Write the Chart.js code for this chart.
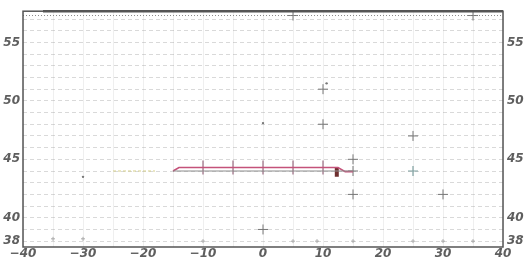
<!DOCTYPE html>
<html>
<head>
<meta charset="utf-8">
<script src="https://cdn.jsdelivr.net/npm/chart.js@4.4.1/dist/chart.umd.min.js"></script>
<style>
  html, body { margin: 0; padding: 0; background: #fff; }
  #wrap { width: 529px; height: 261px; position: relative; }
</style>
</head>
<body>
<div id="wrap"><canvas id="plot"></canvas></div>
<script>
// axis ticks
const xTickLabels = [-40, -30, -20, -10, 0, 10, 20, 30, 40];
const yTickLabels = [38, 40, 45, 50, 55];
const yGridLines = [38, 39, 40, 41, 42, 43, 44, 45, 46, 47, 48, 49, 50, 51, 52, 53, 54, 55, 56, 57];

// red track along 44
const trackX = [-15, -14, 12.5, 13.7, 15];
const trackY = [44.0, 44.3, 44.3, 43.95, 43.95];
// grey base line under it
const baseX = [-15, 15];
const baseY = [44.0, 44.0];
// station marks on the track
const stationX = [-10, -5, 0, 5, 10];
const stationY = [44.3, 44.3, 44.3, 44.3, 44.3];
// dark stub at the east end
const stubX = [12.3, 12.3];
const stubY = [44.3, 43.5];

// scattered crosses
const crossX = [10, 10, 25, 15, 30, 0, 15, 5, 35, 15];
const crossY = [51, 48, 47, 42, 42, 39, 45, 57.3, 57.3, 44];
const greenX = [25];
const greenY = [44];
// small dots
const dotX = [10.6, 0, -30];
const dotY = [51.5, 48.1, 43.5];
// faint marks on the bottom row
const lowX = [-35, -30, -10, 5, 9, 15, 25, 30, 35];
const lowY = [38.2, 38.2, 38, 38, 38, 38, 38, 38, 38];
// yellow dashed bit west of the track
const westX = [-25, -18];
const westY = [44, 44];
// dotted line along the top
const topX = [-40, 40];
const topY = [57.3, 57.3];

const pts = (xs, ys) => xs.map((x, i) => ({ x: x, y: ys[i] }));

const tickFont = { family: "'DejaVu Sans'", size: 12, style: 'oblique', weight: 'bold' };
const tickColor = '#5e5e5e';
const minus = v => (v < 0 ? '\u2212' + Math.abs(v) : String(v));

const frame = {
  id: 'frame',
  afterDraw(chart) {
    const a = chart.chartArea, c = chart.ctx;
    c.save();
    c.strokeStyle = '#555';
    c.lineWidth = 1.5;
    c.strokeRect(a.left, a.top, a.right - a.left, a.bottom - a.top);
    c.lineWidth = 2.5;
    c.beginPath();
    c.moveTo(a.left + 20, a.top);
    c.lineTo(a.right, a.top);
    c.stroke();
    c.restore();
  }
};

new Chart(document.getElementById('plot'), {
  type: 'scatter',
  data: {
    datasets: [
      { type: 'line', data: pts(topX, topY), borderColor: '#8a8a8a', borderWidth: 1, borderDash: [1, 2], pointRadius: 0 },
      { type: 'line', data: pts(westX, westY), borderColor: '#d6d08a', borderWidth: 1.2, borderDash: [3, 2], pointRadius: 0 },
      { type: 'line', data: pts(baseX, baseY), borderColor: '#8c8c8c', borderWidth: 1, pointRadius: 0 },
      { type: 'line', data: pts(trackX, trackY), borderColor: '#c4527a', borderWidth: 1.6, pointRadius: 0, tension: 0 },
      { type: 'line', data: pts(stubX, stubY), borderColor: '#6e2f2f', borderWidth: 4, pointRadius: 0 },
      { data: pts(stationX, stationY), pointStyle: 'line', rotation: 90, pointRadius: 7, borderColor: '#9a6a80', borderWidth: 1.2 },
      { data: pts(crossX, crossY), pointStyle: 'cross', pointRadius: 5, borderColor: '#777', borderWidth: 1 },
      { data: pts(greenX, greenY), pointStyle: 'cross', pointRadius: 5, borderColor: '#7fa0a0', borderWidth: 1.2 },
      { data: pts(dotX, dotY), pointStyle: 'circle', pointRadius: 1.2, backgroundColor: '#777', borderWidth: 0 },
      { data: pts(lowX, lowY), pointStyle: 'cross', pointRadius: 2, borderColor: '#aaa', borderWidth: 1 }
    ]
  },
  options: {
    responsive: true,
    maintainAspectRatio: false,
    animation: false,
    layout: { padding: { top: 5, left: 0, right: 0, bottom: 0 } },
    plugins: { legend: { display: false }, tooltip: { enabled: false } },
    scales: {
      x: {
        type: 'linear',
        min: -40,
        max: 40,
        afterFit: s => { s.height = 14; },
        afterBuildTicks: s => {
          s.ticks = [-40, -35, -30, -25, -20, -15, -10, -5, 0, 5, 10, 15, 20, 25, 30, 35, 40].map(v => ({ value: v }));
        },
        ticks: {
          autoSkip: false,
          maxRotation: 0,
          padding: 0,
          font: tickFont,
          color: tickColor,
          callback: v => (xTickLabels.includes(v) ? minus(v) : '')
        },
        grid: { color: 'rgba(190,190,190,0.25)', drawTicks: false, lineWidth: 1 },
        border: { display: false }
      },
      y: {
        type: 'linear',
        position: 'left',
        min: 37.5,
        max: 57.67,
        afterFit: s => { s.width = 23; },
        afterBuildTicks: s => { s.ticks = yGridLines.map(v => ({ value: v })); },
        ticks: {
          autoSkip: false,
          padding: 3,
          font: tickFont,
          color: tickColor,
          callback: v => (yTickLabels.includes(v) ? String(v) : '')
        },
        grid: { color: 'rgba(160,160,160,0.4)', drawTicks: false, lineWidth: 1 },
        border: { display: false, dash: [4, 3] }
      },
      y2: {
        type: 'linear',
        position: 'right',
        display: true,
        min: 37.5,
        max: 57.67,
        afterFit: s => { s.width = 26; },
        afterBuildTicks: s => { s.ticks = yGridLines.map(v => ({ value: v })); },
        ticks: {
          autoSkip: false,
          padding: 4,
          font: tickFont,
          color: tickColor,
          callback: v => (yTickLabels.includes(v) ? String(v) : '')
        },
        grid: { display: false, drawTicks: false },
        border: { display: false }
      }
    }
  },
  plugins: [frame]
});
</script>
</body>
</html>
